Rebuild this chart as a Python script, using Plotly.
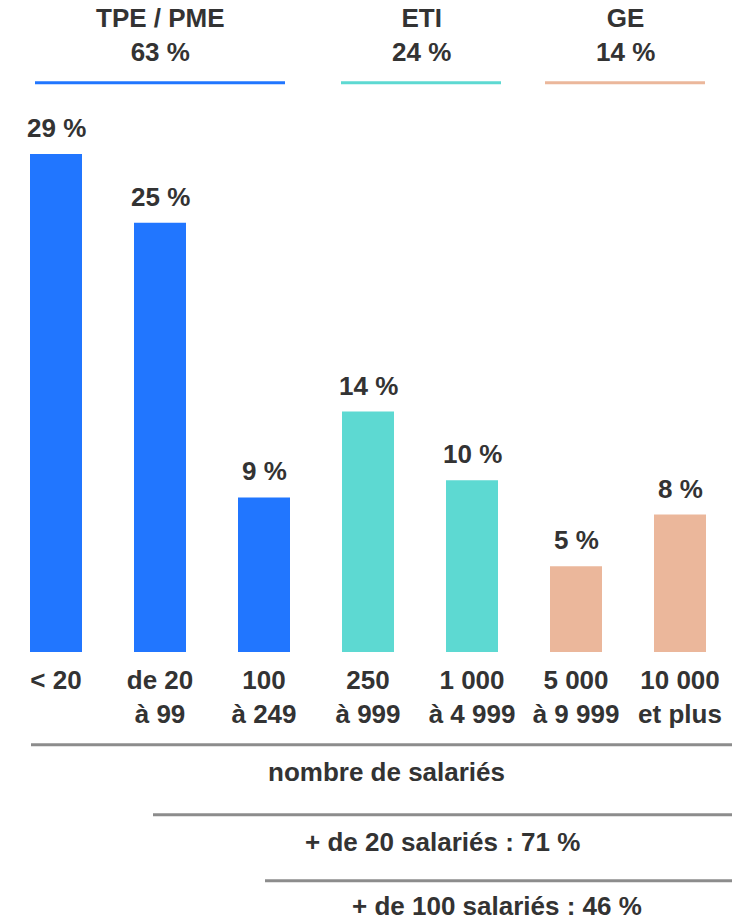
import plotly.graph_objects as go

# ---- data ----
categories = ["< 20", "de 20<br>à 99", "100<br>à 249", "250<br>à 999",
              "1 000<br>à 4 999", "5 000<br>à 9 999", "10 000<br>et plus"]
values = [29, 25, 9, 14, 10, 5, 8]
bar_group = [0, 0, 0, 1, 1, 2, 2]
groups = ["TPE / PME", "ETI", "GE"]
group_totals = [63, 24, 14]
group_colors = ["#2176FF", "#5DD9D2", "#EBB79B"]
axis_title = "nombre de salariés"
summary_texts = ["+ de 20 salariés : 71 %", "+ de 100 salariés : 46 %"]

W, H = 751, 921
TEXT = "#333333"
FONT = "Liberation Sans, Arial, sans-serif"


def px(x):
    return x / W


def py(y):
    return 1 - y / H


bar_colors = [group_colors[g] for g in bar_group]

fig = go.Figure()
fig.add_trace(go.Bar(
    x=categories, y=values, marker=dict(color=bar_colors, line=dict(width=0)),
    width=0.5, hoverinfo="skip", showlegend=False,
))

annotations = []
for c, v in zip(categories, values):
    annotations.append(dict(
        x=c, y=v, xref="x", yref="y", text=f"{v} %", showarrow=False,
        yanchor="bottom", yshift=9,
        font=dict(family=FONT, size=26, color=TEXT, weight="bold"),
    ))

# group headers
header_x = [160, 421, 625]
header_line = [(35, 285), (341, 501), (545, 705)]
shapes = []
for name, tot, hx, (x0, x1), col in zip(groups, group_totals, header_x, header_line, group_colors):
    annotations.append(dict(
        x=px(hx), y=py(35), xref="paper", yref="paper",
        text=f"{name}<br>{tot} %", showarrow=False, xanchor="center", yanchor="middle",
        font=dict(family=FONT, size=26, color=TEXT, weight="bold"),
    ))
    shapes.append(dict(type="line", xref="paper", yref="paper",
                       x0=px(x0), x1=px(x1), y0=py(82.7), y1=py(82.7),
                       line=dict(color=col, width=3)))

# bottom lines and texts
bottom = [(axis_title, 31, 744.7, 386, 772),
          (summary_texts[0], 153, 814.7, 442, 842),
          (summary_texts[1], 265, 880.7, 497, 906)]
for txt, lx0, ly, tx, ty in bottom:
    shapes.append(dict(type="line", xref="paper", yref="paper",
                       x0=px(lx0), x1=px(732), y0=py(ly), y1=py(ly),
                       line=dict(color="#8C8C8C", width=3)))
    annotations.append(dict(
        x=px(tx), y=py(ty), xref="paper", yref="paper", text=txt, showarrow=False,
        xanchor="center", yanchor="middle",
        font=dict(family=FONT, size=26, color=TEXT, weight="bold"),
    ))

px_per_unit = 498 / 29
y_top = 30
base_px = 652
top_px = base_px - y_top * px_per_unit

fig.update_layout(
    width=W, height=H, margin=dict(l=0, r=0, t=0, b=0),
    paper_bgcolor="white", plot_bgcolor="white",
    annotations=annotations, shapes=shapes,
    bargap=0.5,
    xaxis=dict(domain=[px(4), px(732)], range=[-0.5, 6.5], showgrid=False, zeroline=False,
               showline=False, ticks="", fixedrange=True,
               tickfont=dict(family=FONT, size=26, color=TEXT, weight="bold"),
               ticklabelstandoff=10),
    yaxis=dict(domain=[py(base_px), py(top_px)], range=[0, y_top], visible=False,
               fixedrange=True),
    font=dict(family=FONT),
)

fig.write_html(
    "out.html",
    config={"displayModeBar": False},
    post_script="document.body.style.margin='0';document.body.style.overflow='hidden';",
)
